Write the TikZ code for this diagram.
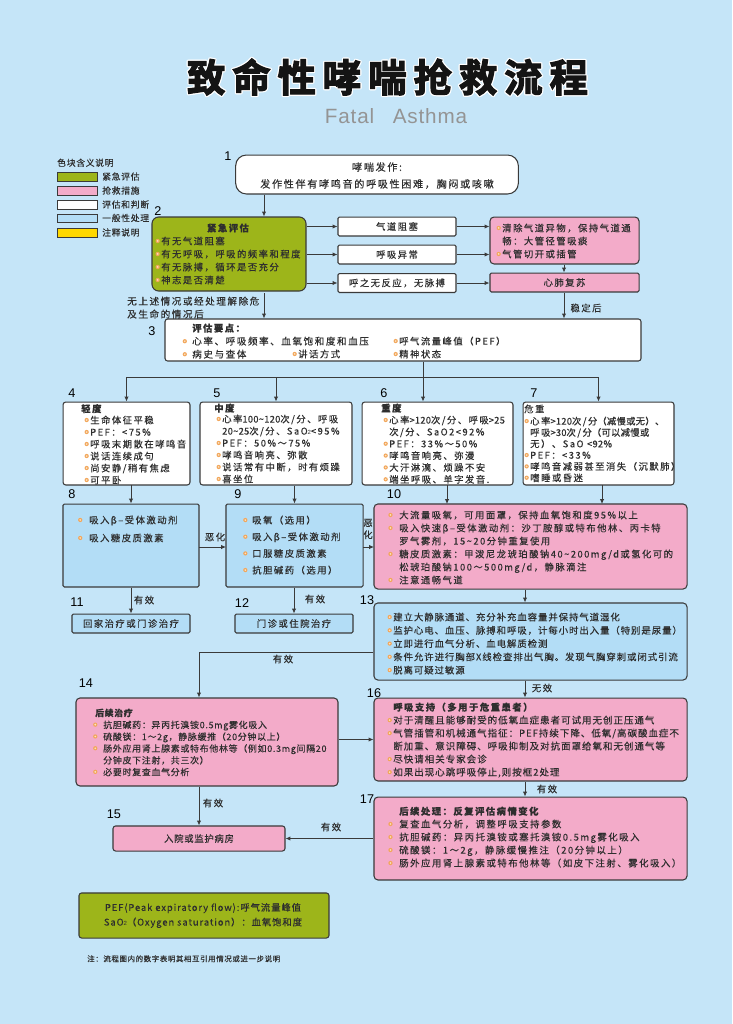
\documentclass[tikz,border=0pt]{standalone}
\usepackage{fontspec}
\setmainfont{Noto Sans CJK SC}
\newfontfamily\numf{Liberation Sans}
\newfontfamily\subf[LetterSpace=8]{Liberation Sans}
\newfontfamily\subt[LetterSpace=4]{Liberation Sans}
\newfontfamily\fa[LetterSpace=16,FakeBold=0.3]{Noto Sans CJK SC}
\newfontfamily\fb[LetterSpace=10,FakeBold=0.3]{Noto Sans CJK SC}
\newfontfamily\fc[LetterSpace=8,FakeBold=0.3]{Noto Sans CJK SC}
\newfontfamily\ftitle[FakeBold=3,LetterSpace=18]{Noto Sans CJK SC Bold}
\usetikzlibrary{arrows.meta}
\definecolor{bgblue}{HTML}{C5E5F8}
\definecolor{gboxc}{HTML}{9DB51A}
\definecolor{pboxc}{HTML}{F3ABC9}
\definecolor{bboxc}{HTML}{B3DDF6}
\definecolor{yboxc}{HTML}{FFD800}
\definecolor{linec}{HTML}{3A3A3A}
\definecolor{txtc}{HTML}{2E2E2E}
\definecolor{bulo}{HTML}{F2A65A}
\definecolor{buli}{HTML}{FBE3C4}
\newcommand\bl[1][1.1]{\leavevmode\llap{\tikz[baseline=-2.7pt]{\fill[bulo] (0,0) circle (1.6pt);\fill[buli] (0,0) circle (.7pt);}\hspace{#1pt}}}
\newcommand\tx[5]{\node[#4] (#1) at ({#2},{#3-4.6}) {#5};}
\newcommand\ns[1]{{\addfontfeature{LetterSpace=3}#1}}
\newcommand\subtwo{{\subf\fontsize{4.5}{5}\selectfont 2}}
\newcommand\td{\textasciitilde}
\tikzset{
 x=0.75pt,y=-0.75pt,
 box/.style={draw=linec,line width=0.8pt,rounded corners=#1,inner sep=0},
 box/.default=2pt,
 conn/.style={draw=linec,line width=0.6pt},
 arr/.style={conn,-{Latex[length=3.6pt,width=3.2pt]}},
 lst/.style={anchor=north west,inner sep=0,align=left,text=txtc,font=\fontsize{7}{9.75}\fa},
 lab/.style={inner sep=0,text=txtc,font=\fontsize{7}{9}\fa},
 num/.style={inner sep=0,text=black,font=\fontsize{9.5}{10}\numf},
}
\begin{document}
\begin{tikzpicture}
\useasboundingbox (0,0) rectangle (732,1024);
\fill[bgblue] (0,0) rectangle (732,1024);
% title
\foreach \dx/\dy in {-1.2/0,1.2/0,0/-1.2,0/1.2,-.9/-.9,.9/-.9,-.9/.9,.9/.9}
 \node[text=white,font=\fontsize{28.8}{30}\ftitle,inner sep=0] at (387.5+\dx,77+\dy) {致命性哮喘抢救流程};
\node[text=black!92,font=\fontsize{28.8}{30}\ftitle,inner sep=0] (title) at (387.5,77) {致命性哮喘抢救流程};
\node[text=black!42,font=\fontsize{15.5}{18}\subt,inner sep=0] (sub) at (396,116) {Fatal\hspace{14pt}Asthma};
% legend
\tx{legt}{57}{163}{lst,font=\fontsize{6.6}{8}\fc}{色块含义说明}
\foreach \n/\c/\a/\b/\t in {a/gboxc/172/181/紧急评估,b/pboxc/186/195/抢救措施,c/white/200/209/评估和判断,d/bboxc/214/222/一般性处理,e/yboxc/228/237/注释说明}{
 \path[draw=linec,line width=0.5pt,fill=\c] (57,\a) rectangle (97,\b);
 \node[lab,anchor=west,font=\fontsize{6.6}{8}\fc] (leg\n) at (102,{(\a+\b)/2}) {\t};
}
% boxes
\node[box=8pt,fill=white,minimum width=212pt,minimum height=29.2pt] (b1) at (377,174.5) {};
\node[box=5pt,fill=gboxc,minimum width=115.5pt,minimum height=55.5pt] (b2) at (229,254) {};
\node[box=1pt,fill=white,minimum width=88.5pt,minimum height=14.2pt] (c1) at (397,226.5) {};
\node[box=1pt,fill=white,minimum width=88.5pt,minimum height=14.2pt] (c2) at (397,254.5) {};
\node[box=1pt,fill=white,minimum width=88.5pt,minimum height=14.2pt] (c3) at (397,283) {};
\node[box=3pt,fill=pboxc,minimum width=111.8pt,minimum height=35.2pt] (p1) at (564.5,240.5) {};
\node[box=1pt,fill=pboxc,minimum width=111.8pt,minimum height=14.2pt] (p2) at (564.5,282.5) {};
\node[box=2pt,fill=white,minimum width=357pt,minimum height=31.5pt] (b3) at (403,340) {};
\node[box=2pt,fill=white,minimum width=95.2pt,minimum height=62.2pt] (b4) at (126.5,443.5) {};
\node[box=2pt,fill=white,minimum width=114pt,minimum height=62.2pt] (b5) at (276,443.5) {};
\node[box=2pt,fill=white,minimum width=113.2pt,minimum height=62.2pt] (b6) at (437.5,443.5) {};
\node[box=2pt,fill=white,minimum width=113.2pt,minimum height=62.2pt] (b7) at (598.5,443.5) {};
\node[box=1pt,fill=bboxc,minimum width=102pt,minimum height=62.2pt] (b8) at (131,545.5) {};
\node[box=1pt,fill=bboxc,minimum width=102.8pt,minimum height=62.2pt] (b9) at (294.5,545.5) {};
\node[box=3pt,fill=pboxc,minimum width=234.8pt,minimum height=63.8pt] (b10) at (530.5,546.5) {};
\node[box=1pt,fill=bboxc,minimum width=88.5pt,minimum height=14.2pt] (b11) at (131,623.5) {};
\node[box=1pt,fill=bboxc,minimum width=88.5pt,minimum height=14.2pt] (b12) at (294,623.5) {};
\node[box=3pt,fill=bboxc,minimum width=234.8pt,minimum height=57.8pt] (b13) at (530.5,641.5) {};
\node[box=3pt,fill=pboxc,minimum width=196.5pt,minimum height=66pt] (b14) at (207,742) {};
\node[box=2pt,fill=pboxc,minimum width=129pt,minimum height=18.8pt] (b15) at (199,838.5) {};
\node[box=3pt,fill=pboxc,minimum width=234.8pt,minimum height=62.2pt] (b16) at (530.5,739.5) {};
\node[box=3pt,fill=pboxc,minimum width=234.8pt,minimum height=62.2pt] (b17) at (530.5,838.5) {};
\node[box=2pt,fill=gboxc,minimum width=187.5pt,minimum height=33.8pt] (note) at (204,915.5) {};
% connectors
\coordinate (j3) at (423,377);
\coordinate (j13) at (199,652);
\draw[arr] (b1.south -| 264,0) -- (b2.north -| 264,0);
\draw[arr] (264,293) -- (b3.north -| 264,0);
\draw[arr] (b2.east |- c1) -- (c1);
\draw[arr] (b2.east |- c2) -- (c2);
\draw[arr] (b2.east |- c3) -- (c3);
\draw[arr] (c1) -- (p1.west |- c1);
\draw[arr] (c2) -- (p1.west |- c2);
\draw[arr] (c3) -- (p2.west |- c3);
\draw[arr] (p1.south -| 564,0) -- (p2.north -| 564,0);
\draw[arr] (p2.south -| 564,0) -- (b3.north -| 564,0);
\draw[conn] (b3.south -| j3) -- (j3);
\draw[conn] (j3 -| b4.north) -- (j3 -| b7.north);
\draw[arr] (j3 -| b4.north) -- (b4.north);
\draw[arr] (j3 -| b5.north) -- (b5.north);
\draw[arr] (j3) -- (b6.north -| j3);
\draw[arr] (j3 -| b7.north) -- (b7.north);
\draw[arr] (131,485) -- (b8.north);
\draw[arr] (b5.south -| b9.north) -- (b9.north);
\draw[arr] (447,485) -- (447,504);
\draw[arr] (602,485) -- (602,504);
\draw[arr] (b8.south) -- (b11.north);
\draw[arr] (b9.south -| b12.north) -- (b12.north);
\draw[arr] (199,547) -- (226,547);
\draw[arr] (363,547) -- (374,547);
\draw[arr] (b10.south -| 525,0) -- (b13.north -| 525,0);
\draw[arr] (b13.south -| 525,0) -- (b16.north -| 525,0);
\draw[arr] (b16.south -| 525,0) -- (b17.north -| 525,0);
\draw[arr] (b13.west |- j13) -- (j13) -- (b14.north -| j13);
\draw[arr] (b14.east |- b16.west) -- (b16.west);
\draw[arr] (b14.south -| b15.north) -- (b15.north);
\draw[arr] (b17.west) -- (b15.east);
% texts
\node[lab,font=\fontsize{7.6}{9}\fa] (t1a) at (377,167) {哮喘发作:};
\node[lab,font=\fontsize{7.6}{9}\fa] (t1b) at (377,184) {发作性伴有哮鸣音的呼吸性困难，胸闷或咳嗽};
\node[lab,font=\fontsize{7}{9}\fa\bfseries] (t2t) at (228,228) {紧急评估};
\tx{t2}{161}{241}{lst}{\bl 有无气道阻塞\\\bl 有无呼吸，呼吸的频率和程度\\\bl 有无脉搏，循环是否充分\\\bl 神志是否清楚}
\node[lab] at (c1) {气道阻塞};
\node[lab] at (c2) {呼吸异常};
\node[lab] at (c3) {呼之无反应，无脉搏};
\tx{t3a}{502}{228}{lst}{\bl 清除气道异物，保持气道通\\畅：大管径管吸痰\\\bl 气管切开或插管}
\node[lab] at (p2) {心肺复苏};
\tx{t0}{127}{301}{lst,font=\fontsize{7.2}{9.75}\fa}{无上述情况或经处理解除危\\及生命的情况后}
\node[lab] at (586,308) {稳定后};
\tx{t4a}{192}{328}{lst,font=\fontsize{7}{9.75}\fa\bfseries}{评估要点：}
\tx{t4b}{192}{341}{lst,font=\fontsize{7.2}{9.75}\fa}{\bl[4]心率、呼吸频率、血氧饱和度和血压\\\bl[4]病史与查体}
\tx{t4c}{298}{354}{lst}{\bl 讲话方式}
\tx{t4d}{399}{341}{lst}{\bl 呼气流量峰值（PEF）\\\bl 精神状态}
\tx{t5t}{81}{408.5}{lst,font=\fontsize{7}{9}\fa\bfseries}{轻度}
\tx{t5}{90}{420}{lst,font=\fontsize{7}{9}\fa}{\bl 生命体征平稳\\\bl PEF：<75\%\\\bl 呼吸末期散在哮鸣音\\\bl 说话连续成句\\\bl 尚安静/稍有焦虑\\\bl 可平卧}
\tx{t6t}{214}{408}{lst,font=\fontsize{7}{9}\fa\bfseries}{中度}
\tx{t6}{222}{419}{lst,font=\fontsize{7}{9}\fa}{\bl 心率\ns{100\td 120}次/分、呼吸\\\ns{20\td 25}次/分、SaO\subtwo<95\%\\\bl PEF：50\%～75\%\\\bl 哮鸣音响亮、弥散\\\bl 说话常有中断，时有烦躁\\\bl 喜坐位}
\tx{t7t}{381}{408}{lst,font=\fontsize{7}{9}\fa\bfseries}{重度}
\tx{t7}{389}{420}{lst,font=\fontsize{7}{8.9}\fa}{\bl 心率\ns{>120}次/分、呼吸\ns{>25}\\次/分、SaO2<92\%\\\bl PEF：33\%～50\%\\\bl 哮鸣音响亮、弥漫\\\bl 大汗淋漓、烦躁不安\\\bl 端坐呼吸、单字发音.}
\tx{t8t}{524}{409}{lst}{危重}
\tx{t8}{530}{421}{lst,font=\fontsize{7}{8.5}\fa}{\bl 心率\ns{>120}次/分\ns{（减慢或无）、}\\呼吸\ns{>30}次/分\ns{（可以减慢或}\\无）、SaO \ns{<92\%}\\\bl PEF：<33\%\\\bl 哮鸣音减弱甚至消失（沉默肺）\\\bl 嗜睡或昏迷}
\tx{t9}{89}{520}{lst,font=\fontsize{7}{13.5}\fa}{\bl[5.2]吸入β–受体激动剂\\\bl[5.2]吸入糖皮质激素}
\tx{t10}{252}{520}{lst,font=\fontsize{7}{12.5}\fa}{\bl[3.6]吸氧（选用）\\\bl[3.6]吸入β–受体激动剂\\\bl[3.6]口服糖皮质激素\\\bl[3.6]抗胆碱药（选用）}
\tx{t11}{399}{515}{lst}{\bl[5]大流量吸氧，可用面罩，保持血氧饱和度95\%以上\\\bl[5]吸入快速β–受体激动剂：沙丁胺醇或特布他林、丙卡特\\罗气雾剂，15\td 20分钟重复使用\\\bl[5]糖皮质激素：甲泼尼龙琥珀酸钠40\td 200mg/d或氢化可的\\松琥珀酸钠100～500mg/d，静脉滴注\\\bl[5]注意通畅气道}
\node[lab] at (b11) {回家治疗或门诊治疗};
\node[lab] at (b12) {门诊或住院治疗};
\node[lab] at (215,537) {恶化};
\node[lab,align=center,font=\fontsize{7}{9}\fa] at (368,529) {恶\\化};
\node[lab] at (144,600) {有效};
\node[lab] at (315,599) {有效};
\node[lab] at (283,659) {有效};
\node[lab] at (542,688) {无效};
\node[lab] at (547,789) {有效};
\node[lab] at (213,803) {有效};
\node[lab] at (331,827) {有效};
\tx{t13}{393}{617}{lst,font=\fontsize{7.05}{9.95}\fb}{\bl 建立大静脉通道、充分补充血容量并保持气道湿化\\\bl 监护心电、血压、脉搏和呼吸，计每小时出入量（特别是尿量）\\\bl 立即进行血气分析、血电解质检测\\\bl 条件允许进行胸部X线检查排出气胸。发现气胸穿刺或闭式引流\\\bl 脱离可疑过敏源}
\tx{t16t}{393}{707}{lst,font=\fontsize{7}{9.75}\fa\bfseries}{呼吸支持（多用于危重患者）}
\tx{t16}{393}{720}{lst,font=\fontsize{7.15}{9.75}\fb}{\bl 对于清醒且能够耐受的低氧血症患者可试用无创正压通气\\\bl 气管插管和机械通气指征：PEF持续下降、低氧/高碳酸血症不\\断加重、意识障碍、呼吸抑制及对抗面罩给氧和无创通气等\\\bl 尽快请相关专家会诊\\\bl 如果出现心跳呼吸停止,则按框2处理}
\tx{t17t}{399}{811}{lst,font=\fontsize{7}{9.75}\fa\bfseries}{后续处理：反复评估病情变化}
\tx{t17}{399}{824}{lst,font=\fontsize{7.05}{9.75}\fa}{\bl[5]复查血气分析，调整呼吸支持参数\\\bl[5]抗胆碱药：异丙托溴铵或塞托溴铵0.5mg雾化吸入\\\bl[5]硫酸镁：1～2g，静脉缓慢推注（20分钟以上）\\\bl[5]肠外应用肾上腺素或特布他林等（如皮下注射、雾化吸入）}
\tx{t14t}{95}{713}{lst,font=\fontsize{6.6}{8.85}\fc\bfseries}{后续治疗}
\tx{t14}{103}{725}{lst,font=\fontsize{6.7}{8.85}\fc}{\bl[4.4]抗胆碱药：异丙托溴铵0.5mg雾化吸入\\\bl[4.4]硫酸镁：1～2g，静脉缓推（20分钟以上）\\\bl[4.4]肠外应用肾上腺素或特布他林等（例如0.3mg间隔20\\分钟皮下注射，共三次）\\\bl[4.4]必要时复查血气分析}
\node[lab,font=\fontsize{7}{9}\fc] at (b15) {入院或监护病房};
\node[lab,align=center,font=\fontsize{7}{11}\fb] at (203,915.5) {PEF(Peak expiratory flow):呼气流量峰值\\SaO\subtwo（Oxygen saturation）：血氧饱和度};
\node[lst,font=\fontsize{5.6}{7}\fc] (foot) at (87,955) {注：流程图内的数字表明其相互引用情况或进一步说明};
% numbers
\foreach \t/\x/\y in {1/228/156,2/158/211,3/152/331,4/72/393,5/217/393,6/384/393,7/534/393,8/72/494,9/238/494,10/394/494,11/77/602,12/242/603,13/367/600,14/86/683,15/114/814,16/374/693,17/367/799}
 \node[num] (n\t) at (\x,\y) {\t};
\end{tikzpicture}
\end{document}
